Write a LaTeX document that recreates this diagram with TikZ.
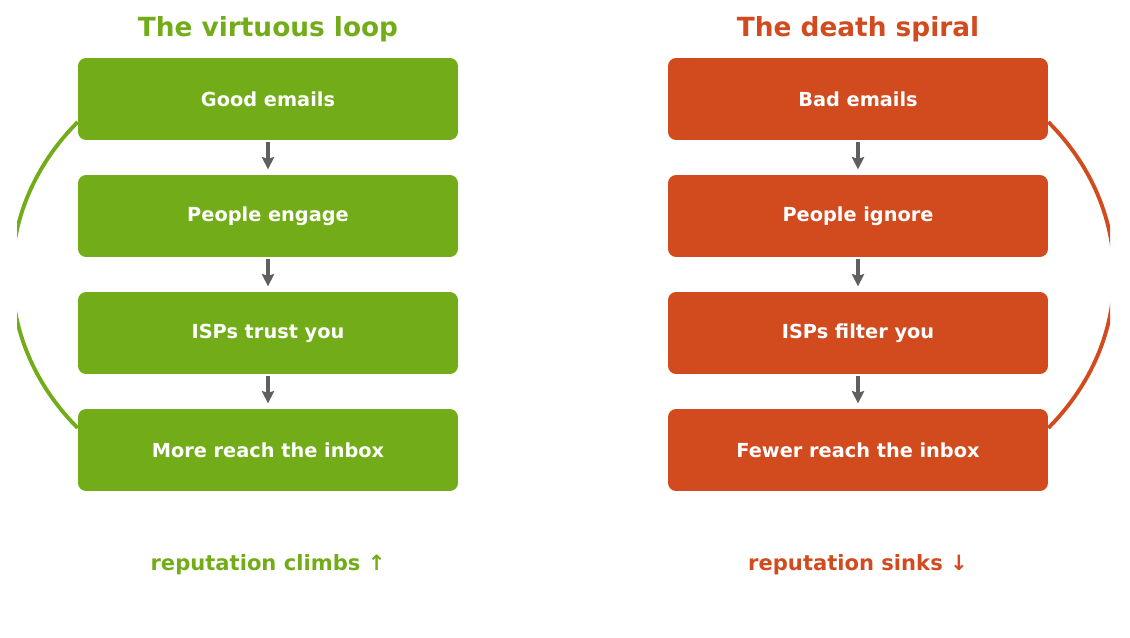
\documentclass[tikz,border=0pt]{standalone}
\usepackage{fontspec}
\setmainfont{DejaVu Sans}
\usetikzlibrary{positioning,arrows.meta}
\definecolor{good}{HTML}{72AD19}
\definecolor{bad}{HTML}{D24B1F}
\definecolor{arr}{HTML}{5F5F5F}
\begin{document}
\begin{tikzpicture}[x=0.02cm, y=-0.02cm,
  box/.style={rectangle, rounded corners=0.16cm, minimum width=7.6cm, minimum height=1.64cm, text=white, font=\bfseries\fontsize{11}{13}\selectfont},
  gbox/.style={box, fill=good},
  rbox/.style={box, fill=bad},
  flow/.style={-{Stealth[length=7pt,width=7pt,inset=1pt]}, draw=arr, fill=arr, line width=1.8pt, shorten <=1pt, shorten >=3pt},
  title/.style={font=\bfseries\fontsize{15}{18}\selectfont},
  foot/.style={font=\bfseries\fontsize{12}{14}\selectfont}]
\useasboundingbox (0,0) rectangle (1130,638);
% Virtuous loop
\node[title, text=good] (tg) at (268,29) {The virtuous loop};
\node[gbox] (g1) at (268,99) {Good emails};
\node[gbox] (g2) at (268,216) {People engage};
\node[gbox] (g3) at (268,333) {ISPs trust you};
\node[gbox] (g4) at (268,450) {More reach the inbox};
\node[foot, text=good] (fg) at (268,565) {reputation climbs ↑};
\draw[flow] (g1) -- (g2);
\draw[flow] (g2) -- (g3);
\draw[flow] (g3) -- (g4);

% Death spiral
\node[title, text=bad] (tr) at (858,29) {The death spiral};
\node[rbox] (r1) at (858,99) {Bad emails};
\node[rbox] (r2) at (858,216) {People ignore};
\node[rbox] (r3) at (858,333) {ISPs filter you};
\node[rbox] (r4) at (858,450) {Fewer reach the inbox};
\node[foot, text=bad] (fr) at (858,565) {reputation sinks ↓};
\draw[flow] (r1) -- (r2);
\draw[flow] (r2) -- (r3);
\draw[flow] (r3) -- (r4);

% Return arcs
\begin{scope}
\clip (17,0) rectangle (1110,638);
\draw[good, line width=2.2pt] (g1.west |- 0,122) .. controls (-10,210) and (-10,340) .. (g4.west |- 0,428);
\draw[bad, line width=2.2pt] (r1.east |- 0,122) .. controls (1136,210) and (1136,340) .. (r4.east |- 0,428);
\end{scope}
\end{tikzpicture}
\end{document}
